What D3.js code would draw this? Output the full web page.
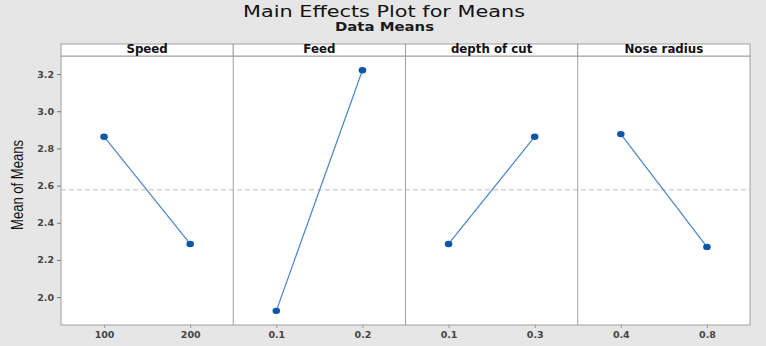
<!DOCTYPE html>
<html>
<head>
<meta charset="utf-8">
<script src="https://cdn.jsdelivr.net/npm/d3@7"></script>
<style>
  html, body { margin: 0; padding: 0; background: #e6e6e6; }
  svg { display: block; }
</style>
</head>
<body>
<div id="chart"></div>
<script>
const factors = ["Speed", "Feed", "depth of cut", "Nose radius"];
const levels = [["100", "200"], ["0.1", "0.2"], ["0.1", "0.3"], ["0.4", "0.8"]];
const means = [[2.863, 2.286], [1.926, 3.220], [2.286, 2.863], [2.877, 2.270]];
const yTicks = [2.0, 2.2, 2.4, 2.6, 2.8, 3.0, 3.2];
const grandMean = 2.577;

const W = 766, H = 346;
const margin = { top: 56, right: 16, bottom: 21, left: 61 };
const stripH = 12;
const plotW = W - margin.left - margin.right;
const plotH = H - margin.top - margin.bottom;
const font = "DejaVu Sans, Verdana, sans-serif";

const svg = d3.select("#chart")
    .append("svg")
    .attr("width", W)
    .attr("height", H);

svg.append("rect")
    .attr("width", W)
    .attr("height", H)
    .attr("fill", "#e6e6e6");

svg.append("text")
    .attr("x", 384)
    .attr("y", 17)
    .attr("text-anchor", "middle")
    .attr("font-family", font)
    .attr("font-size", 16.5)
    .attr("fill", "#111")
    .attr("textLength", 282)
    .attr("lengthAdjust", "spacingAndGlyphs")
    .text("Main Effects Plot for Means");

svg.append("text")
    .attr("x", 384.5)
    .attr("y", 31)
    .attr("text-anchor", "middle")
    .attr("font-family", font)
    .attr("font-size", 11.5)
    .attr("font-weight", 700)
    .attr("fill", "#1a1a1a")
    .attr("textLength", 99)
    .attr("lengthAdjust", "spacingAndGlyphs")
    .text("Data Means");

const panel = d3.scaleBand()
    .domain(factors)
    .range([margin.left, margin.left + plotW])
    .paddingInner(0);

const y = d3.scaleLinear()
    .domain([1.85, 3.297])
    .range([margin.top + plotH, margin.top]);

// plot background
svg.append("rect")
    .attr("x", margin.left)
    .attr("y", margin.top)
    .attr("width", plotW)
    .attr("height", plotH)
    .attr("fill", "#fff")
    .attr("stroke", "#a0a0a0");

// y axis
const yAxis = d3.axisLeft(y)
    .tickValues(yTicks)
    .tickFormat(d3.format(".1f"))
    .tickSize(4)
    .tickPadding(3);

const gy = svg.append("g")
    .attr("transform", `translate(${margin.left},0)`)
    .call(yAxis);
gy.select(".domain").remove();
gy.selectAll("line").attr("stroke", "#777");
gy.selectAll("text")
    .attr("font-family", font)
    .attr("font-size", 9.5)
    .attr("font-weight", 700)
    .attr("fill", "#444");

svg.append("text")
    .attr("transform", `translate(23, 185) rotate(-90)`)
    .attr("text-anchor", "middle")
    .attr("font-family", "Liberation Sans, Arial, sans-serif")
    .attr("font-size", 16)
    .attr("fill", "#111")
    .attr("textLength", 90)
    .attr("lengthAdjust", "spacingAndGlyphs")
    .text("Mean of Means");

// grand mean reference line
svg.append("line")
    .attr("x1", margin.left)
    .attr("x2", margin.left + plotW)
    .attr("y1", y(grandMean))
    .attr("y2", y(grandMean))
    .attr("stroke", "#bdbdbd")
    .attr("stroke-dasharray", "5,3");

factors.forEach((f, i) => {
    const x0 = panel(f);
    const bw = panel.bandwidth();

    // strip
    svg.append("rect")
        .attr("x", x0)
        .attr("y", margin.top - stripH)
        .attr("width", bw)
        .attr("height", stripH)
        .attr("fill", "#fff")
        .attr("stroke", "#a0a0a0");

    svg.append("text")
        .attr("x", x0 + bw / 2)
        .attr("y", margin.top - 3)
        .attr("text-anchor", "middle")
        .attr("font-family", font)
        .attr("font-size", 11.8)
        .attr("font-weight", 700)
        .attr("fill", "#111")
        .text(f);

    if (i > 0) {
        svg.append("line")
            .attr("x1", x0).attr("x2", x0)
            .attr("y1", margin.top)
            .attr("y2", margin.top + plotH)
            .attr("stroke", "#a0a0a0");
    }

    const x = d3.scalePoint()
        .domain(levels[i])
        .range([x0, x0 + bw])
        .padding(0.5);

    const gx = svg.append("g")
        .attr("transform", `translate(0,${margin.top + plotH})`)
        .call(d3.axisBottom(x).tickSize(3).tickPadding(3));
    gx.select(".domain").remove();
    gx.selectAll("line").attr("stroke", "#999");
    gx.selectAll("text")
        .attr("font-family", font)
        .attr("font-size", 9.5)
        .attr("font-weight", 700)
        .attr("fill", "#444");

    const pts = levels[i].map((l, j) => ({ level: l, value: means[i][j] }));

    svg.append("path")
        .datum(pts)
        .attr("fill", "none")
        .attr("stroke", "#4a86c5")
        .attr("stroke-width", 1.2)
        .attr("d", d3.line().x(d => x(d.level)).y(d => y(d.value)));

    svg.selectAll(null)
        .data(pts)
        .enter()
        .append("ellipse")
        .attr("cx", d => x(d.level))
        .attr("cy", d => y(d.value))
        .attr("rx", 3.8)
        .attr("ry", 3.2)
        .attr("fill", "#0d57a6");
});
</script>
</body>
</html>
